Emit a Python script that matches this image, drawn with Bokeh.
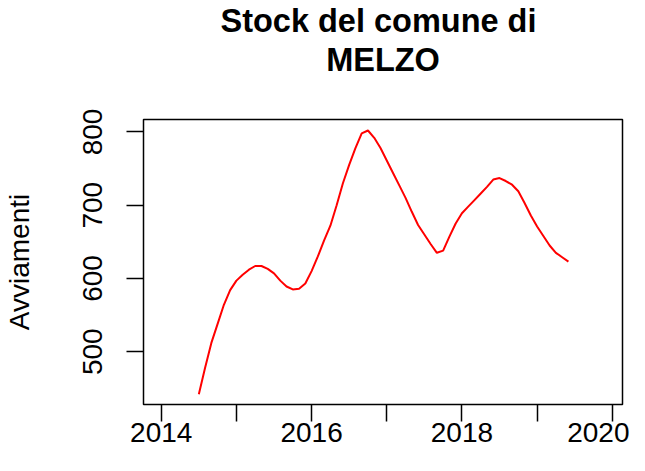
from bokeh.plotting import figure
from bokeh.models import FixedTicker, Range1d, LinearAxis
from bokeh.embed import file_html
from bokeh.resources import INLINE

# Monthly stock, July 2014 .. June 2019
start_year = 2014.5
values = [442, 478, 512, 538, 564, 584, 597, 605, 612, 617, 617, 613,
          607, 597, 589, 585, 586, 593, 610, 630, 652, 672, 700, 730,
          755, 778, 798, 802, 792, 778, 761, 744, 727, 710, 691, 673,
          660, 647, 635, 638, 657, 675, 689, 698, 707, 716, 725, 735,
          737, 733, 728, 719, 703, 686, 671, 658, 645, 635, 629, 623]
years = [start_year + i / 12 for i in range(len(values))]

x_ticks = [2014, 2015, 2016, 2017, 2018, 2019, 2020]
x_tick_labels = ["2014", "", "2016", "", "2018", "", "2020"]
y_ticks = [500, 600, 700, 800]

title_line1 = "Stock del comune di "
title_line2 = "MELZO"
y_label = "Avviamenti"

FONT = "Liberation Sans"

p = figure(width=629, height=455, output_backend="svg", toolbar_location=None,
           x_range=Range1d(2013.764, 2020.136), y_range=Range1d(427.9, 817.0),
           min_border_left=143, min_border_right=7, min_border_top=116,
           min_border_bottom=51)

p.line(years, values, line_color="red", line_width=2)

p.grid.visible = False
p.outline_line_color = "black"
p.outline_line_width = 1.5
p.background_fill_color = "white"
p.border_fill_color = "white"

xa = p.xaxis[0]
xa.ticker = FixedTicker(ticks=x_ticks)
xa.major_label_overrides = {t: l for t, l in zip(x_ticks, x_tick_labels)}
ya = p.yaxis[0]
ya.ticker = FixedTicker(ticks=y_ticks)
ya.major_label_orientation = "vertical"
ya.axis_label = y_label

for ax in (xa, ya):
    ax.minor_tick_line_color = None
    ax.major_tick_in = 0
    ax.major_tick_out = 17
    ax.major_tick_line_width = 1.5
    ax.major_tick_line_color = "black"
    ax.axis_line_color = None
    ax.major_label_text_font = FONT
    ax.major_label_text_font_size = "28px"
    ax.major_label_text_color = "black"
    ax.axis_label_text_font = FONT
    ax.axis_label_text_font_size = "28px"
    ax.axis_label_text_font_style = "normal"
    ax.axis_label_text_color = "black"

xa.major_label_standoff = 1
ya.major_label_standoff = 24
ya.axis_label_standoff = 46

# second title line, drawn as the label of a tick-less axis above the frame
title_axis = LinearAxis(ticker=FixedTicker(ticks=[]), major_tick_out=0,
                        major_tick_in=0, minor_tick_out=0, minor_tick_in=0,
                        major_label_standoff=0, axis_line_color=None,
                        major_tick_line_color=None, minor_tick_line_color=None,
                        axis_label=title_line2, axis_label_standoff=42,
                        axis_label_text_font=FONT,
                        axis_label_text_font_size="32.5px",
                        axis_label_text_font_style="bold",
                        axis_label_text_color="black")
p.add_layout(title_axis, "above")

# first title line (outermost)
p.title.text = title_line1
p.title.align = "center"
p.title.text_font = FONT
p.title.text_font_size = "32.5px"
p.title.text_font_style = "bold"
p.title.text_color = "black"
p.title.standoff = 0

open("out.html", "w").write(file_html(p, INLINE))
